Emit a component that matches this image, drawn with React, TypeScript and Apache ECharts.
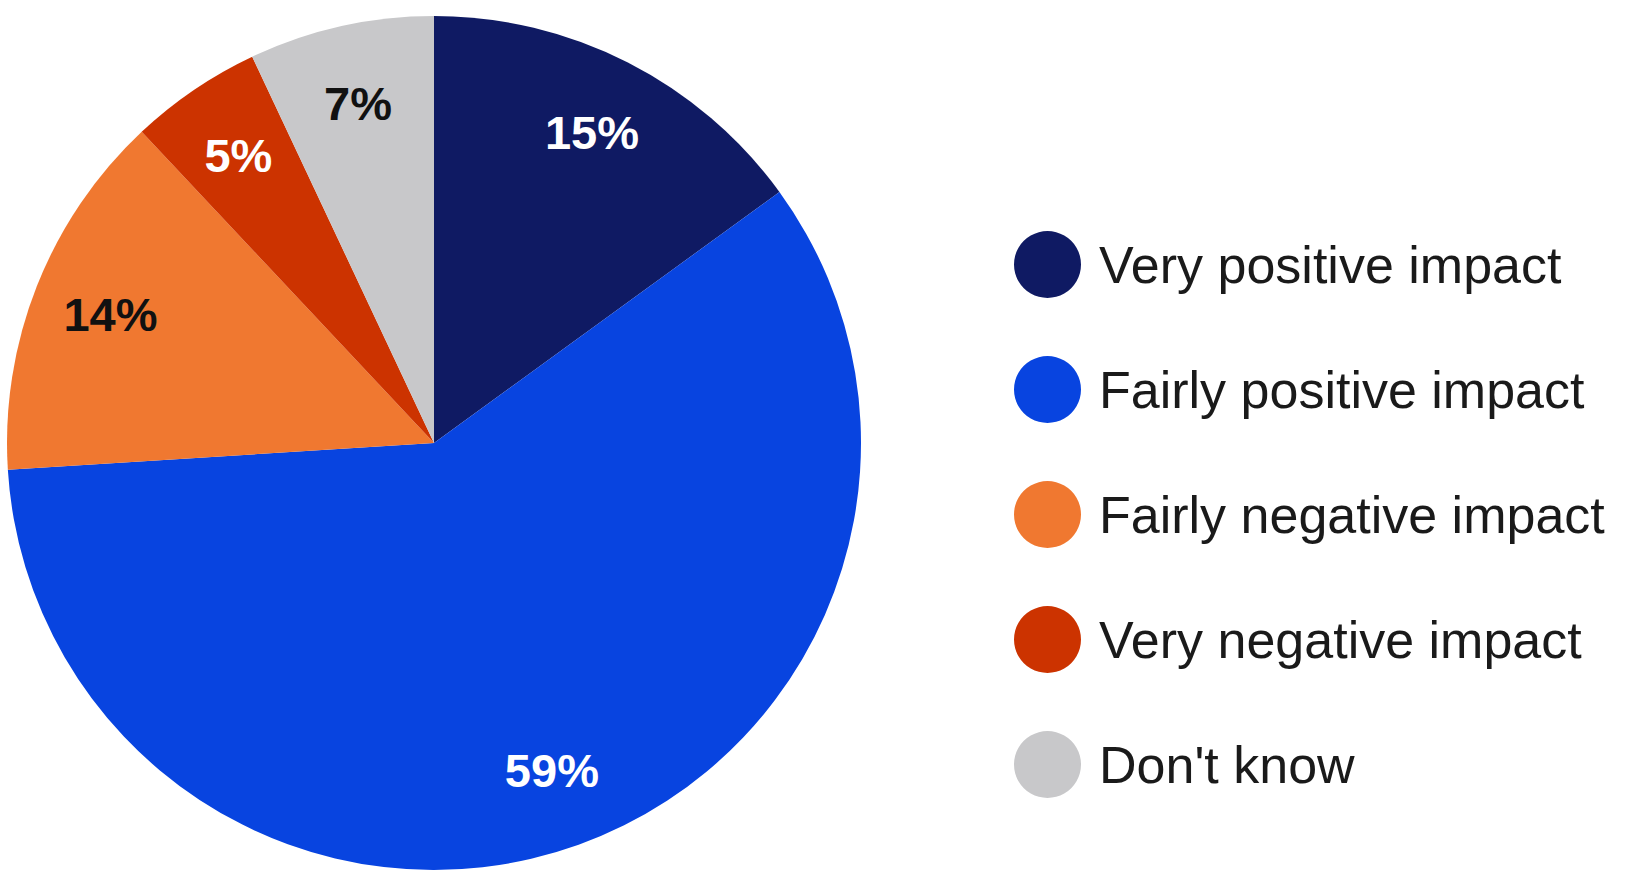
import React, { useEffect, useRef } from "react";
import * as echarts from "echarts";

const categories = [
  "Very positive impact",
  "Fairly positive impact",
  "Fairly negative impact",
  "Very negative impact",
  "Don't know",
];
const values = [15, 59, 14, 5, 7];
const colors = ["#0f1a63", "#0844e0", "#f07830", "#cc3300", "#c8c8ca"];
const labelColors = ["#ffffff", "#ffffff", "#111111", "#ffffff", "#111111"];

const FONT = "'Liberation Sans', Arial, sans-serif";

export default function App() {
  const ref = useRef<HTMLDivElement>(null);
  useEffect(() => {
    if (!ref.current) return;
    const chart = echarts.init(ref.current, undefined, { renderer: "svg" });
    const data = categories.map((name, i) => ({
      name,
      value: values[i],
      itemStyle: { color: colors[i] },
    }));
    const labelData = categories.map((name, i) => ({
      name,
      value: values[i],
      label: { color: labelColors[i] },
    }));
    chart.setOption({
      animation: false,
      backgroundColor: "#ffffff",
      legend: {
        orient: "vertical",
        left: 1009,
        top: 226,
        icon: "circle",
        itemWidth: 67,
        itemHeight: 67,
        itemGap: 58,
        selectedMode: false,
        data: categories,
        textStyle: {
          fontFamily: FONT,
          fontSize: 52,
          color: "#1a1a1a",
          padding: [0, 0, 0, 13],
        },
      },
      series: [
        {
          type: "pie",
          center: [434, 443],
          radius: [0, 427],
          startAngle: 90,
          clockwise: true,
          silent: true,
          label: { show: false },
          labelLine: { show: false },
          itemStyle: { borderWidth: 0 },
          data,
        },
        {
          type: "pie",
          center: [434, 443],
          radius: [300, 390],
          startAngle: 90,
          clockwise: true,
          silent: true,
          itemStyle: { color: "rgba(0,0,0,0)", borderWidth: 0 },
          labelLine: { show: false },
          label: {
            show: true,
            position: "inside",
            formatter: "{c}%",
            fontFamily: FONT,
            fontWeight: "bold",
            fontSize: 47,
          },
          data: labelData,
        },
      ],
    });
    return () => chart.dispose();
  }, []);
  return (
    <div
      ref={ref}
      style={{ position: "fixed", left: 0, top: 0, width: 1626, height: 878 }}
    />
  );
}
